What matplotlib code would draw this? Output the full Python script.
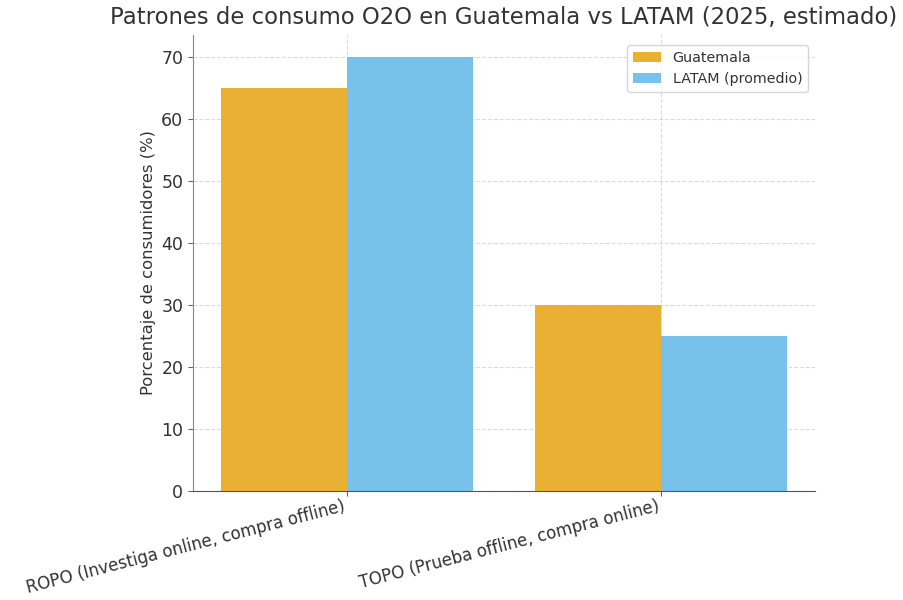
import matplotlib
matplotlib.use("Agg")
import matplotlib.pyplot as plt
import numpy as np

categories = ["ROPO (Investiga online, compra offline)",
              "TOPO (Prueba offline, compra online)"]
guatemala = [65, 30]
latam = [70, 25]
series_names = ["Guatemala", "LATAM (promedio)"]

ORANGE = "#EAB033"
BLUE = "#77C1EB"
TEXT = "#333333"

plt.rcParams.update({
    "text.color": TEXT, "axes.labelcolor": TEXT,
    "xtick.color": "#666666", "ytick.color": "#666666",
    "xtick.labelcolor": TEXT, "ytick.labelcolor": TEXT,
})

fig = plt.figure(figsize=(9.04, 6.0), dpi=100)
ax = fig.add_axes([0.2135, 0.182, 0.688, 0.7597])

x = np.arange(len(categories))
w = 0.4
ax.bar(x - w / 2, guatemala, w, color=ORANGE, label=series_names[0])
ax.bar(x + w / 2, latam, w, color=BLUE, label=series_names[1])

ax.set_xticks(x, categories, rotation=14.5, ha="right", fontsize=12.0)
ax.tick_params(axis="x", pad=1)
ax.tick_params(axis="y", labelsize=12.5)
ax.set_ylabel("Porcentaje de consumidores (%)", fontsize=11.8)
ax.set_title("Patrones de consumo O2O en Guatemala vs LATAM (2025, estimado)",
             fontsize=16.4, pad=8)
ax.grid(True, linestyle="--", color="#cccccc", alpha=0.7)
ax.set_axisbelow(True)
for side in ("top", "right"):
    ax.spines[side].set_visible(False)
ax.spines["left"].set_color("#888888")
ax.spines["bottom"].set_color("#555555")
ax.legend(loc="upper right", fontsize=10.3, borderaxespad=0,
          bbox_to_anchor=(0.989, 0.978))

fig.savefig("out.png", dpi=100)
